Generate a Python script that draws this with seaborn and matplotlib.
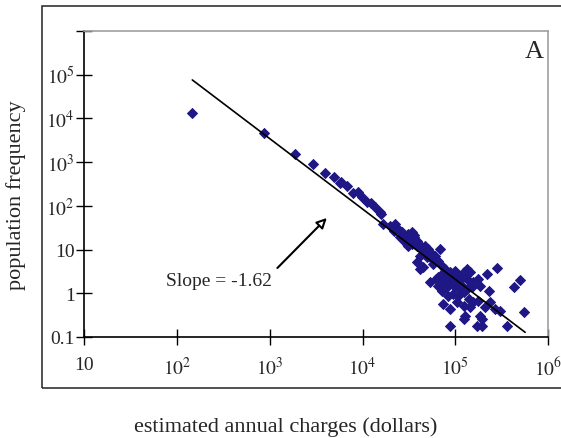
import numpy as np
import pandas as pd
import matplotlib
matplotlib.use("Agg")
import matplotlib.pyplot as plt
import seaborn as sns
from matplotlib.patches import Rectangle

sns.set_style("white")
plt.rcParams['font.family'] = ['Liberation Serif', 'DejaVu Serif']
plt.rcParams['mathtext.fontset'] = 'stix'

# estimated annual charges (dollars) and population frequency
charges = [144, 869, 1875, 2910, 3920, 4940, 5730, 5870, 6820, 7850, 9040, 9820,
           11100, 12300, 13700, 15500, 16000,
           16800, 19900, 22500, 21600, 24400, 26500, 25500, 28800, 31300, 34000,
           35500, 32700, 30100, 37000, 38500, 43600, 47300, 45400, 51400, 53600,
           41800, 49300, 55800, 60700, 68700, 65900, 58200, 71600, 77800, 38500,
           41800, 45400, 53600, 65900, 71600, 74600, 81100, 88100, 99800, 108000,
           123000, 133000, 145000, 128000, 139000, 157000, 178000, 219000, 281000,
           186000, 151000, 133000, 118000, 104000, 91900, 81100, 71600, 65900,
           84500, 95700, 108000, 123000, 139000, 157000, 178000, 229000, 238000,
           210000, 270000, 305000, 74600, 88100, 104000, 123000, 128000, 123000,
           145000, 186000, 194000, 171000, 194000, 88100, 360000, 425000, 501000,
           553000, 27500, 29000, 33000, 36000, 31000, 34000, 39000, 62000, 70000,
           85000, 95000, 110000, 115000, 100000]
frequency = [13400, 4730, 1540, 910, 557, 451, 334, 347, 281, 197, 205, 157,
             121, 115, 93, 71, 66,
             38.5, 35.3, 38.5, 27.1, 29.6, 24.8, 19.1, 20.8, 22.7, 24.8,
             19.1, 16.0, 13.4, 14.7, 12.3, 11.3, 12.3, 9.4, 10.3, 8.6,
             7.3, 6.7, 6.1, 7.3, 10.3, 5.6, 4.7, 4.3, 3.6, 5.1,
             3.6, 3.9, 1.78, 2.32, 2.76, 1.95, 2.53, 3.0, 3.3, 2.53,
             3.0, 3.6, 3.0, 2.32, 1.95, 1.78, 2.12, 2.76, 3.7,
             1.49, 1.37, 1.25, 1.49, 1.63, 1.78, 1.37, 1.15, 1.49,
             0.88, 0.96, 0.88, 1.05, 0.74, 0.62, 0.68, 1.15, 0.62,
             0.48, 0.44, 0.40, 0.57, 0.44, 0.62, 0.52, 0.31, 0.26,
             0.48, 0.31, 0.26, 0.18, 0.18, 0.18, 0.175, 1.37, 2.01,
             0.37, 17, 15, 20, 21, 12, 13.5, 16, 2.1, 1.6,
             2.1, 2.3, 1.9, 1.2, 1.4]

# fitted power law line (slope -1.62), end points
fit_x = [146, 567000]
fit_y = [76000, 0.128]

xticks = [10, 1e2, 1e3, 1e4, 1e5, 1e6]
xticklabels = ['10', '$10^2$', '$10^3$', '$10^4$', '$10^5$', '$10^6$']
yticks = [0.1, 1, 10, 1e2, 1e3, 1e4, 1e5, 1e6]
yticklabels = ['0.1', '1', '10', '$10^2$', '$10^3$', '$10^4$', '$10^5$', '']

df = pd.DataFrame({'charges': charges, 'frequency': frequency})

fig = plt.figure(figsize=(5.61, 4.39), dpi=100)
ax = fig.add_axes([0.1503, 0.2301, 0.8265, 0.697])

sns.scatterplot(data=df, x='charges', y='frequency', marker='D', s=26,
                color='#1f1785', edgecolor='#1f1785', linewidth=0.7, ax=ax, zorder=3)
sns.lineplot(x=fit_x, y=fit_y, color='black', linewidth=1.2, ax=ax, zorder=4)

ax.set_xscale('log')
ax.set_yscale('log')
ax.set_xlim(10, 1e6)
ax.set_ylim(0.1, 1e6)
ax.set_xticks(xticks)
ax.set_xticklabels(xticklabels, fontsize=14)
ax.set_yticks(yticks)
ax.set_yticklabels(yticklabels, fontsize=14)
ax.minorticks_off()
ax.tick_params(axis='x', bottom=True, top=False, direction='inout', length=12,
               width=1, color='black', pad=8)
ax.tick_params(axis='y', left=True, right=False, direction='inout', length=12,
               width=1, color='black', pad=1)
ax.set_xlabel('')
ax.set_ylabel('')

for side in ['left', 'bottom']:
    ax.spines[side].set_color('black')
    ax.spines[side].set_linewidth(1.2)
for side in ['right', 'top']:
    ax.spines[side].set_color('#a0a0a0')
    ax.spines[side].set_linewidth(1.2)

ax.text(0.970, 0.935, 'A', transform=ax.transAxes, fontsize=19,
        ha='center', va='center')

ax.annotate('', xy=(4120, 52.8), xytext=(1208, 3.79),
            arrowprops=dict(arrowstyle='-|>,head_length=0.6,head_width=0.3',
                            fc='white', ec='black', lw=1.5,
                            shrinkA=0, shrinkB=0))
ax.text(285, 2.0, 'Slope = -1.62', fontsize=14, ha='center', va='center')

# outer frame around the plot
fig.patches.append(Rectangle((0.0743, 0.1128), 0.95, 0.8719,
                             transform=fig.transFigure, fill=False,
                             edgecolor='#222222', linewidth=1.1))

fig.text(0.029, 0.556, 'population frequency', rotation=90, fontsize=16,
         ha='center', va='center')
fig.text(0.51, 0.027, 'estimated annual charges (dollars)', fontsize=16,
         ha='center', va='center')

fig.savefig('out.png', dpi=100)
